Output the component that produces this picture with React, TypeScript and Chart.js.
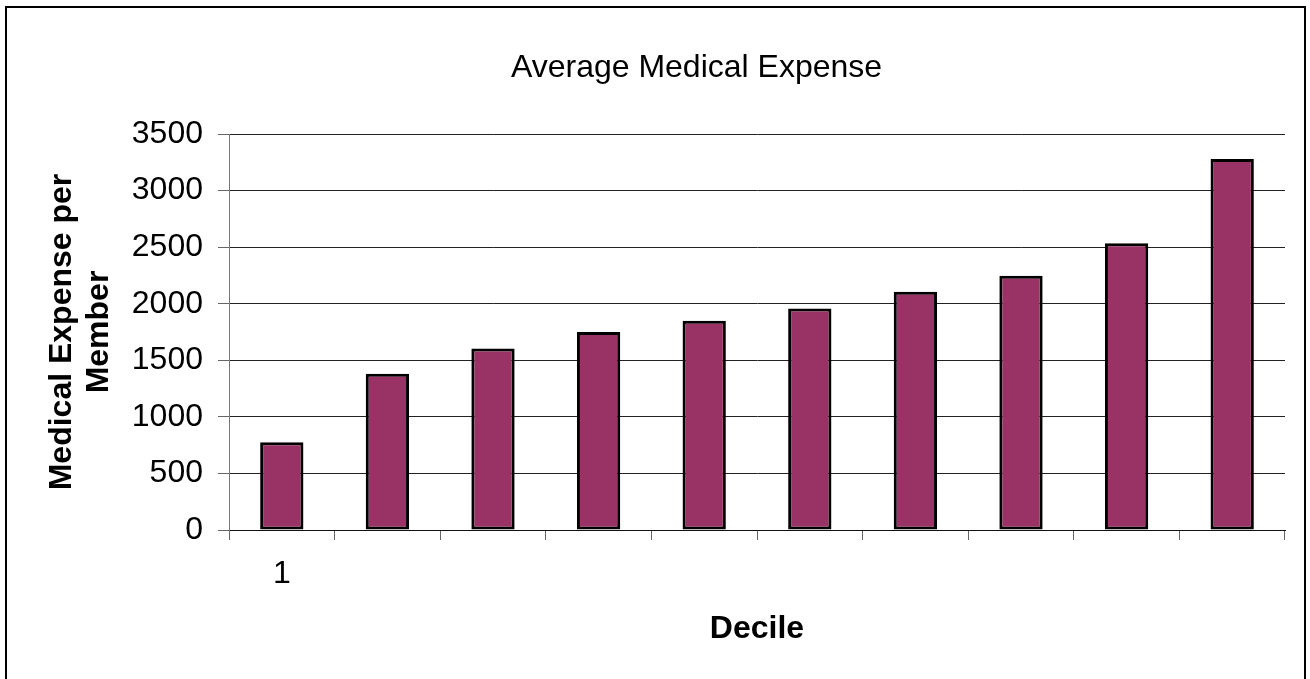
import { useEffect, useRef } from 'react';
import { Chart, registerables } from 'chart.js';

Chart.register(...registerables);

// Deciles of members ranked by expense, and the average expense in each
const deciles = ['1', '2', '3', '4', '5', '6', '7', '8', '9', '10'];
const avgExpense = [775, 1380, 1605, 1750, 1850, 1958, 2105, 2247, 2535, 3280];
// Only the first decile carries a visible category label
const labeledDeciles = ['1'];

const yMin = 0;
const yMax = 3500;
const yStep = 500;

const chartTitle = 'Average Medical Expense';
const yTitle = ['Medical Expense per', 'Member'];
const xTitle = 'Decile';

const FONT = '"Liberation Sans", Arial, Helvetica, sans-serif';

// Chart title, placed a little right of the canvas centre, over the plot
const offsetTitle = {
  id: 'offsetTitle',
  afterDraw(chart: any) {
    const { ctx, chartArea } = chart;
    ctx.save();
    ctx.font = `32px ${FONT}`;
    ctx.fillStyle = '#000';
    ctx.textAlign = 'center';
    ctx.textBaseline = 'alphabetic';
    ctx.fillText(chartTitle, chartArea.left + 467.5, chartArea.top - 56.7);
    ctx.restore();
  },
};

export default function App() {
  const canvasRef = useRef<HTMLCanvasElement | null>(null);

  useEffect(() => {
    const canvas = canvasRef.current;
    if (!canvas) return;
    const chart = new Chart(canvas, {
      type: 'bar',
      data: {
        labels: deciles,
        datasets: [
          {
            data: avgExpense,
            backgroundColor: '#993366',
            borderColor: '#000000',
            borderWidth: 3,
            borderSkipped: false,
            barPercentage: 1,
            categoryPercentage: 0.41,
          },
        ],
      },
      options: {
        responsive: false,
        animation: false,
        layout: { padding: { top: 126, right: 19, bottom: 0, left: 0 } },
        plugins: {
          legend: { display: false },
          tooltip: { enabled: false },
          title: { display: false },
        },
        scales: {
          x: {
            grid: {
              offset: true,
              drawOnChartArea: false,
              drawTicks: true,
              tickLength: 10,
              color: '#666666',
              lineWidth: 1,
            },
            border: { display: true, color: '#111111', width: 1 },
            ticks: {
              autoSkip: false,
              maxRotation: 0,
              padding: 15,
              color: '#000',
              font: { family: FONT, size: 32 },
              callback: (_v: any, i: number) =>
                labeledDeciles.includes(deciles[i]) ? deciles[i] : '',
            },
            title: {
              display: true,
              text: xTitle,
              color: '#000',
              font: { family: FONT, size: 32, weight: 'bold' },
              padding: { top: 0, bottom: 30.8 },
            },
            afterFit(scale: any) {
              scale.height = 149;
            },
          },
          y: {
            min: yMin,
            max: yMax,
            ticks: {
              stepSize: yStep,
              padding: 15,
              color: '#000',
              font: { family: FONT, size: 32 },
              callback: (v: any) => String(v),
            },
            grid: {
              color: '#222222',
              tickColor: '#666666',
              tickLength: 11,
              lineWidth: 1,
            },
            border: { display: true, color: '#777777', width: 1 },
            title: {
              display: true,
              text: yTitle,
              color: '#000',
              font: { family: FONT, size: 32, weight: 'bold', lineHeight: 1.16 },
              padding: { top: 36.4, bottom: 0 },
            },
            afterFit(scale: any) {
              scale.width = 222;
            },
          },
        },
      },
      plugins: [offsetTitle],
    } as any);
    return () => chart.destroy();
  }, []);

  return (
    <div
      style={{
        position: 'absolute',
        left: 5,
        top: 6,
        width: 1301,
        height: 673,
        border: '2px solid #000',
        borderBottom: 'none',
        boxSizing: 'border-box',
        background: '#fff',
      }}
    >
      <canvas ref={canvasRef} width={1297} height={671} style={{ display: 'block' }} />
    </div>
  );
}
